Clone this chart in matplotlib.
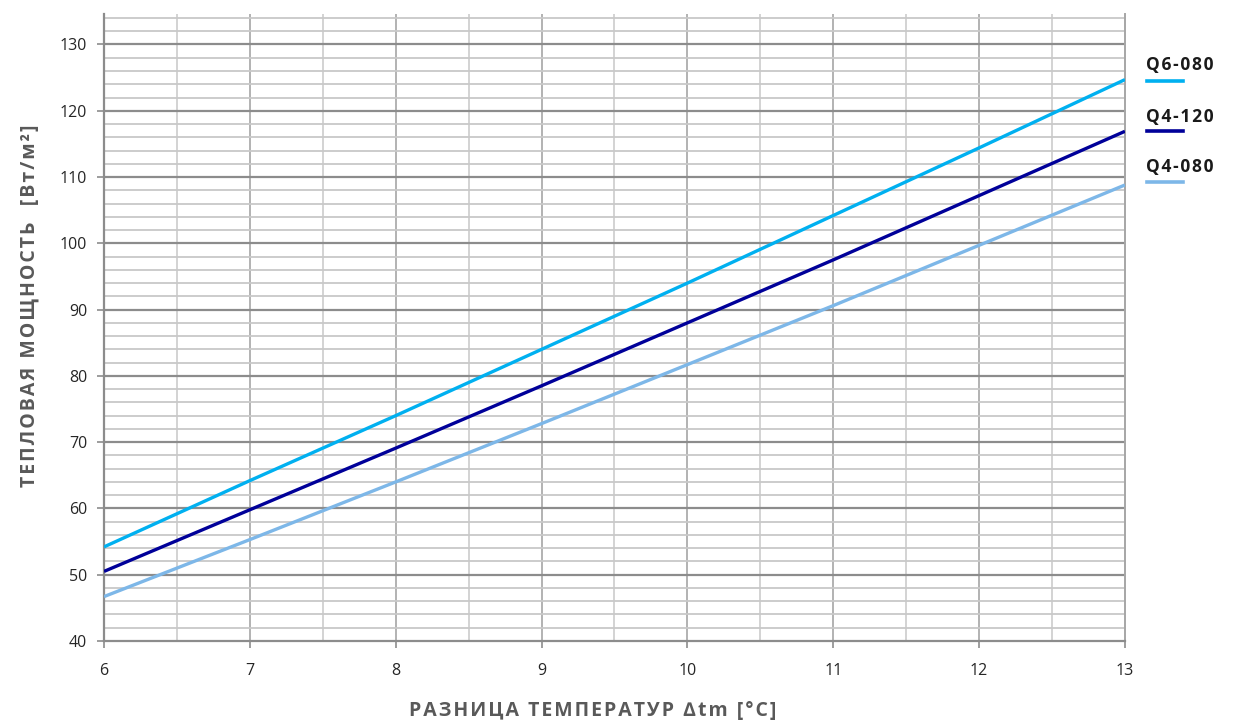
import matplotlib.pyplot as plt
from matplotlib.lines import Line2D
import numpy as np

plt.rcParams['font.family'] = ['Open Sans', 'DejaVu Sans']

# data
delta_t = [6, 7, 8, 9, 10, 11, 12, 13]
q6_080 = [54.2, 64.2, 74.0, 84.0, 94.0, 104.2, 114.4, 124.7]
q4_120 = [50.5, 59.8, 69.1, 78.5, 88.0, 97.5, 107.2, 116.9]
q4_080 = [46.7, 55.3, 64.0, 72.8, 81.7, 90.6, 99.7, 108.8]

series = [
    ("Q6-080", q6_080, "#00b0f0"),
    ("Q4-120", q4_120, "#000099"),
    ("Q4-080", q4_080, "#7db7e8"),
]


def spaced(s):
    # fake letter spacing with hair spaces
    return "\u200a".join(s)


fig = plt.figure(figsize=(12.43, 7.22), dpi=100)
ax = fig.add_axes([0.0837, 0.1122, 0.905 - 0.0837, 0.9806 - 0.1122])

ax.set_xlim(6, 13)
ax.set_ylim(40, 134.6)

# grid
for x in np.arange(6.5, 13, 1.0):
    ax.axvline(x, color="#d0d0d0", lw=1.3, zorder=1)
for x in range(7, 13):
    ax.axvline(x, color="#a6a6a6", lw=1.2, zorder=1)
for y in range(42, 135, 2):
    if y % 10 != 0:
        ax.axhline(y, color="#c8c8c8", lw=1.3, zorder=1)
for y in range(50, 131, 10):
    ax.axhline(y, color="#8c8c8c", lw=1.6, zorder=1)

for name, vals, col in series:
    ax.plot(delta_t, vals, color=col, lw=2.4, zorder=3, solid_capstyle="butt")

ax.set_xticks(range(6, 14))
ax.set_yticks(range(40, 131, 10))
ax.tick_params(axis="both", labelsize=11.5, colors="#8c8c8c", labelcolor="#262626",
               length=5, width=1.2, direction="out")
ax.tick_params(axis="x", pad=11)
ax.tick_params(axis="y", pad=7)

ax.spines["top"].set_visible(False)
ax.spines["left"].set_color("#8c8c8c")
ax.spines["left"].set_linewidth(1.6)
ax.spines["right"].set_color("#a6a6a6")
ax.spines["right"].set_linewidth(1.4)
ax.spines["bottom"].set_color("#8c8c8c")
ax.spines["bottom"].set_linewidth(1.6)

ax.set_xlabel(spaced("РАЗНИЦА ТЕМПЕРАТУР \u2206tm [°C]"), fontsize=14, fontweight="bold",
              color="#595959")
ax.xaxis.set_label_coords(0.479, -0.095)
ax.set_ylabel(spaced("ТЕПЛОВАЯ МОЩНОСТЬ  [Вт/м²]"), fontsize=14, fontweight="bold",
              color="#595959")
ax.yaxis.set_label_coords(-0.063, 0.535)

# legend on the right: name above a short line
legend_text_y = [0.910, 0.838, 0.769]
legend_line_y = [0.888, 0.8186, 0.748]
for (name, vals, col), ty, ly in zip(series, legend_text_y, legend_line_y):
    fig.text(0.922, ty, spaced(name), fontsize=12.5, fontweight="bold", color="#1a1a1a",
             ha="left", va="center")
    fig.add_artist(Line2D([0.9225, 0.952], [ly, ly],
                          color=col, lw=2.6, transform=fig.transFigure))

fig.savefig("out.png", dpi=100)
